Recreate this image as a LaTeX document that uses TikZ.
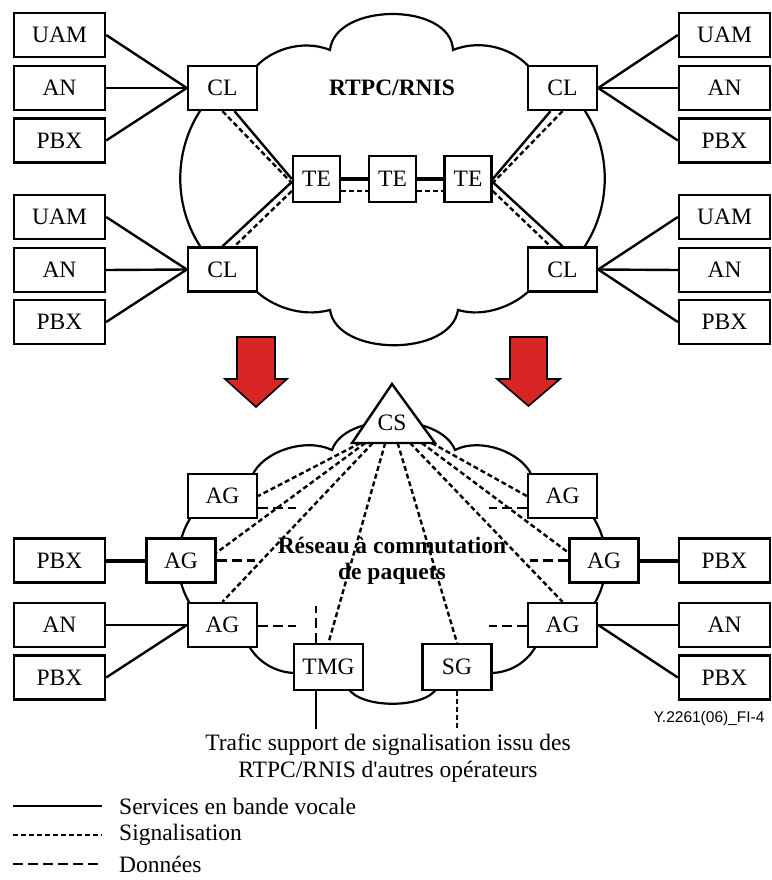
\documentclass[tikz,border=0pt]{standalone}
\usepackage{fontspec}
\setmainfont{Liberation Serif}[Ligatures=TeXOff]
\newfontfamily\labelfont{Liberation Sans}
\usetikzlibrary{calc}
\definecolor{arrowred}{RGB}{216,38,38}

\tikzset{
  box/.style={draw, line width=2.4pt, fill=white, inner sep=0pt, minimum height=44pt},
  wbox/.style={box, minimum width=91pt},
  sbox/.style={box, minimum width=69pt},
  tebox/.style={box, minimum width=47pt, minimum height=46pt},
  voice/.style={line width=2.4pt},
  heavy/.style={line width=4pt},
  sig/.style={line width=2.4pt, dash pattern=on 5pt off 3pt},
  data/.style={line width=2.4pt, dash pattern=on 10pt off 5pt},
  cloudline/.style={line width=2.2pt},
  bigarrow/.style={draw, line width=1.6pt, fill=arrowred, line join=miter},
  nettext/.style={font=\fontsize{23.5}{26}\selectfont\bfseries, align=center},
}

\begin{document}
\begin{tikzpicture}[x=1pt,y=-1pt,font=\fontsize{23.5}{27}\selectfont]
        \useasboundingbox (0,0) rectangle (771,880);

        % RTPC/RNIS
        \draw[cloudline] (255,68) .. controls (268,52) and (300,38) .. (330,50)
              .. controls (335,2) and (451,2) .. (453,50)
              .. controls (483,38) and (515,50) .. (530,68)
              -- (583,108) .. controls (612,150) and (612,207) .. (583,249)
              -- (530,290) .. controls (515,305) and (485,318) .. (458,310)
              .. controls (451,357) and (337,357) .. (330,310)
              .. controls (300,318) and (270,305) .. (255,290)
              -- (202,249) .. controls (173,207) and (173,150) .. (202,108) -- cycle;

        \node[wbox] (uam1) at (59.5,35)    {UAM};
        \node[wbox] (an1)  at (59.5,88)    {AN};
        \node[wbox] (pbx1) at (59.5,140.5) {PBX};
        \node[wbox] (uam2) at (59.5,217)   {UAM};
        \node[wbox] (an2)  at (59.5,270)   {AN};
        \node[wbox] (pbx2) at (59.5,322)   {PBX};
        \node[wbox] (uam3) at (724.5,35)    {UAM};
        \node[wbox] (an3)  at (724.5,88)    {AN};
        \node[wbox] (pbx3) at (724.5,140.5) {PBX};
        \node[wbox] (uam4) at (724.5,217)   {UAM};
        \node[wbox] (an4)  at (724.5,270)   {AN};
        \node[wbox] (pbx4) at (724.5,322)   {PBX};

        \node[sbox] (cl1) at (222.5,88)    {CL};
        \node[sbox] (cl2) at (222.5,269.5) {CL};
        \node[sbox] (cl3) at (562.5,88)    {CL};
        \node[sbox] (cl4) at (562.5,269.5) {CL};

        \node[tebox] (te1) at (316.5,179) {TE};
        \node[tebox] (te2) at (392.5,179) {TE};
        \node[tebox] (te3) at (468,179)   {TE};

        \node[nettext] (rtpc) at (392,88) {RTPC/RNIS};

        \draw[voice] (uam1.east) -- (cl1.west);
        \draw[voice] (an1.east)  -- (cl1.west);
        \draw[voice] (pbx1.east) -- (cl1.west);
        \draw[voice] (uam2.east) -- (cl2.west);
        \draw[voice] (an2.east)  -- (cl2.west);
        \draw[voice] (pbx2.east) -- (cl2.west);
        \draw[voice] (uam3.west) -- (cl3.east);
        \draw[voice] (an3.west)  -- (cl3.east);
        \draw[voice] (pbx3.west) -- (cl3.east);
        \draw[voice] (uam4.west) -- (cl4.east);
        \draw[voice] (an4.west)  -- (cl4.east);
        \draw[voice] (pbx4.west) -- (cl4.east);

        \draw[voice] ($(cl1.south)+(12,0)$) -- (te1.west);
        \draw[sig]   (cl1.south) -- ($(te1.west)+(0,4)$);
        \draw[voice] ($(te1.west)+(0,3)$) -- (cl2.north);
        \draw[sig]   ($(te1.west)+(0,12)$) -- ($(cl2.north)+(12,0)$);
        \draw[voice] ($(cl3.south)+(-12,0)$) -- (te3.east);
        \draw[sig]   (cl3.south) -- ($(te3.east)+(0,4)$);
        \draw[voice] ($(te3.east)+(0,3)$) -- (cl4.north);
        \draw[sig]   ($(te3.east)+(0,12)$) -- ($(cl4.north)+(-12,0)$);

        \draw[heavy] (te1.east) -- (te2.west);
        \draw[heavy] (te2.east) -- (te3.west);
        \draw[sig] ($(te1.east)+(0,12)$) -- ($(te2.west)+(0,12)$);
        \draw[sig] ($(te2.east)+(0,12)$) -- ($(te3.west)+(0,12)$);

        % migration
        \filldraw[bigarrow] (237,337) -- (275,337) -- (275,379) -- (287,379) -- (256,407)
                            -- (225,379) -- (237,379) -- cycle;
        \filldraw[bigarrow] (510,337) -- (547,337) -- (547,379) -- (560,379) -- (528.5,406)
                            -- (497,379) -- (510,379) -- cycle;

        % packet network
        \draw[cloudline] (252,476) .. controls (262,452) and (305,437) .. (332,450)
              .. controls (345,412) and (440,412) .. (455,450)
              .. controls (480,437) and (522,452) .. (532,476)
              .. controls (630,500) and (630,620) .. (536,646)
              .. controls (526,664) and (508,673) .. (490,673)
              -- (437,688) .. controls (425,709) and (360,709) .. (348,688)
              -- (296,673) .. controls (276,673) and (258,662) .. (249,646)
              .. controls (154,620) and (154,500) .. cycle;

        \filldraw[line width=2.4pt, fill=white] (392,384) coordinate (csa)
              -- (435,443) coordinate (csr) -- (352,443) coordinate (csl) -- cycle;
        \node (cs) at (392,423) {CS};

        \node[sbox] (ag1) at (222.5,496)   {AG};
        \node[sbox] (ag2) at (181,560.5)   {AG};
        \node[sbox] (ag3) at (222.5,625)   {AG};
        \node[sbox] (ag4) at (562.5,496)   {AG};
        \node[sbox] (ag5) at (604,560.5)   {AG};
        \node[sbox] (ag6) at (562.5,625)   {AG};
        \node[sbox, minimum height=46pt] (tmg) at (328.5,667) {TMG};
        \node[sbox, minimum height=46pt] (sg)  at (457,667)   {SG};

        \node[wbox] (pbx5) at (59.5,560.5)  {PBX};
        \node[wbox] (an5)  at (59.5,625)    {AN};
        \node[wbox] (pbx6) at (59.5,677.5)  {PBX};
        \node[wbox] (pbx7) at (724.5,560.5) {PBX};
        \node[wbox] (an7)  at (724.5,625)   {AN};
        \node[wbox] (pbx8) at (724.5,677.5) {PBX};

        \node[nettext] (psn) at (392,561) {Réseau à commutation\\de paquets};

        \draw[heavy] (pbx5.east) -- (ag2.west);
        \draw[voice] (an5.east)  -- (ag3.west);
        \draw[voice] (pbx6.east) -- (ag3.west);
        \draw[heavy] (pbx7.west) -- (ag5.east);
        \draw[voice] (an7.west)  -- (ag6.east);
        \draw[voice] (pbx8.west) -- (ag6.east);

        \draw[sig] ($(csl)!0.10!(csr)$) -- (ag1.east);
        \draw[sig] ($(csl)!0.16!(csr)$) -- ($(ag2.east)+(0,-8)$);
        \draw[sig] ($(csl)!0.25!(csr)$) -- (ag3.north);
        \draw[sig] ($(csl)!0.40!(csr)$) -- (tmg.north);
        \draw[sig] ($(csl)!0.55!(csr)$) -- (sg.north);
        \draw[sig] ($(csl)!0.70!(csr)$) -- (ag6.north);
        \draw[sig] ($(csl)!0.84!(csr)$) -- ($(ag5.west)+(0,-8)$);
        \draw[sig] ($(csl)!0.96!(csr)$) -- (ag4.west);

        \draw[data] ($(ag1.east)+(0,12)$) -- ++(38,0);
        \draw[data] (ag2.east) -- ++(38,0);
        \draw[data] ($(ag3.east)+(0,1)$) -- ++(38,0);
        \draw[data] ($(ag4.west)+(0,12)$) -- ++(-38,0);
        \draw[data] (ag5.west) -- ++(-38,0);
        \draw[data] ($(ag6.west)+(0,1)$) -- ++(-38,0);
        \draw[data] ($(tmg.north)+(-12.5,0)$) -- ++(0,-37);

        \draw[voice] ($(tmg.south)+(-12.5,0)$) -- ++(0,38);
        \draw[sig]   (sg.south) -- ++(0,38);

        \node[anchor=east, font=\labelfont\fontsize{15.5}{18}\selectfont] (figid) at (768,718) {Y.2261(06)\_FI-4};
        \node[align=center] (trunk) at (388,758) {Trafic support de signalisation issu des\\RTPC/RNIS d'autres opérateurs};

        % legend
        \draw[voice] (13,806) -- (102,806) node[anchor=west, inner sep=0pt, xshift=16pt] (lvoice) {Services en bande vocale};
        \draw[sig]   (13,835) -- (102,835) node[anchor=west, inner sep=0pt, xshift=16pt] (lsig) {Signalisation};
        \draw[data]  (13,864) -- (102,864) node[anchor=west, inner sep=0pt, xshift=16pt] (ldata) {Données};
\end{tikzpicture}
\end{document}
